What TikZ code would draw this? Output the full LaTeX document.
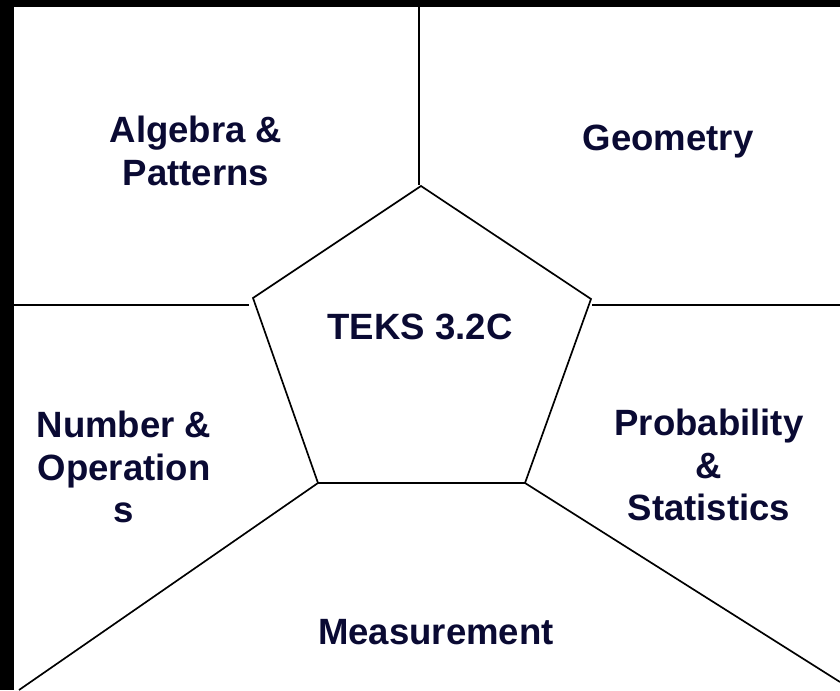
\documentclass[tikz,border=0pt]{standalone}
\usepackage{fontspec}
\setmainfont{Liberation Sans}
\usepackage{xcolor}
\usepackage{tikz}
\definecolor{textnavy}{RGB}{10,10,51}

\begin{document}
\begin{tikzpicture}[x=0.025cm, y=-0.025cm,
    domaine/.style={text=textnavy, font=\fontsize{26}{30}\selectfont\bfseries,
                    align=center, inner sep=0pt},
    trait/.style={draw=black, line width=1.2pt}
]
    % Fond et cadre
    \fill[black] (0,0) rectangle (840,690);
    \fill[white] (14,7) rectangle (840,690);
    \useasboundingbox (0,0) rectangle (840,690);

    % Sommets du pentagone
    \coordinate (haut) at (421,186);
    \coordinate (gauche) at (253,298);
    \coordinate (droite) at (591,299);
    \coordinate (basg) at (318,483);
    \coordinate (basd) at (525,483);

    % Extremites des traits
    \coordinate (vhaut) at (419,7);
    \coordinate (vbas) at (419,185);
    \coordinate (hgauche) at (14,305);
    \coordinate (hgfin) at (249,305);
    \coordinate (hdroite) at (840,305);
    \coordinate (hddebut) at (592,305);
    \coordinate (coing) at (19,690);
    \coordinate (coind) at (840,682);

    % Pentagone central
    \draw[trait] (haut) -- (droite) -- (basd) -- (basg) -- (gauche) -- cycle;

    % Separations
    \draw[trait] (vhaut) -- (vbas);
    \draw[trait] (hgauche) -- (hgfin);
    \draw[trait] (hddebut) -- (hdroite);
    \draw[trait] (basg) -- (coing);
    \draw[trait] (basd) -- (coind);

    % Domaines
    \node[domaine] (teks) at (420,327) {TEKS 3.2C};
    \node[domaine] (algebre) at (196,151) {Algebra \&\\Patterns};
    \node[domaine] (geometrie) at (668,142) {Geometry};
    \node[domaine] (nombres) at (124,467) {Number \&\\Operation\\s};
    \node[domaine] (proba) at (709,465) {Probability\\\&\\Statistics};
    \node[domaine] (mesure) at (436,632) {Measurement};
\end{tikzpicture}
\end{document}
